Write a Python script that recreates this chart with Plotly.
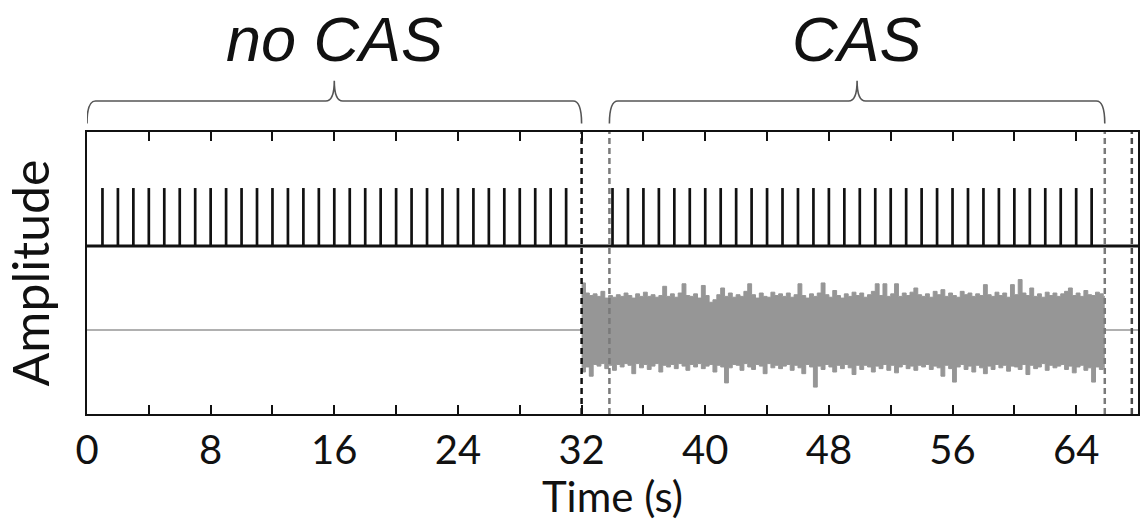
import numpy as np
import plotly.graph_objects as go

# ---- data -----------------------------------------------------------------
# click times (s) in the two blocks
clicks_no_cas = [1, 2, 3, 4, 5, 6, 7, 8, 9, 10, 11, 12, 13, 14, 15, 16,
                 17, 18, 19, 20, 21, 22, 23, 24, 25, 26, 27, 28, 29, 30, 31]
clicks_cas = [34, 35, 36, 37, 38, 39, 40, 41, 42, 43, 44, 45, 46, 47, 48, 49,
              50, 51, 52, 53, 54, 55, 56, 57, 58, 59, 60, 61, 62, 63, 64, 65]
click_height = 0.69

# block boundaries (s)
noise_on, cas_start, noise_off, trial_end = 32.0, 33.8, 65.85, 67.6
t_max = 68

# contralateral noise envelope, sampled every 0.25 s from 32 s
noise_step = 0.25
noise_upper = [
    0.56, 0.44, 0.41, 0.43, 0.40, 0.46, 0.38, 0.41, 0.39, 0.42, 0.40, 0.44,
    0.41, 0.38, 0.43, 0.40, 0.45, 0.40, 0.42, 0.39, 0.41, 0.52, 0.40, 0.43,
    0.39, 0.44, 0.55, 0.41, 0.40, 0.43, 0.38, 0.53, 0.41, 0.33, 0.36, 0.42,
    0.50, 0.40, 0.44, 0.39, 0.42, 0.40, 0.46, 0.55, 0.42, 0.38, 0.44, 0.40,
    0.39, 0.45, 0.41, 0.43, 0.40, 0.44, 0.39, 0.42, 0.55, 0.41, 0.38, 0.43,
    0.40, 0.44, 0.56, 0.42, 0.39, 0.47, 0.41, 0.38, 0.43, 0.40, 0.45, 0.41,
    0.44, 0.39, 0.42, 0.46, 0.55, 0.41, 0.55, 0.40, 0.43, 0.55, 0.40, 0.44,
    0.41, 0.45, 0.50, 0.42, 0.40, 0.43, 0.39, 0.46, 0.42, 0.48, 0.40, 0.44,
    0.41, 0.39, 0.46, 0.42, 0.44, 0.40, 0.43, 0.41, 0.54, 0.42, 0.40, 0.45,
    0.41, 0.44, 0.39, 0.54, 0.42, 0.60, 0.44, 0.41, 0.50, 0.40, 0.43, 0.39,
    0.45, 0.41, 0.44, 0.40, 0.43, 0.46, 0.50, 0.41, 0.44, 0.40, 0.47, 0.42,
    0.41, 0.45, 0.43, 0.40,
]
noise_lower = [
    -0.50, -0.44, -0.55, -0.41, -0.43, -0.40, -0.46, -0.42, -0.48, -0.41,
    -0.44, -0.40, -0.42, -0.52, -0.40, -0.45, -0.41, -0.47, -0.43, -0.40,
    -0.50, -0.42, -0.44, -0.41, -0.46, -0.40, -0.43, -0.48, -0.41, -0.44,
    -0.40, -0.46, -0.43, -0.41, -0.50, -0.42, -0.44, -0.63, -0.45, -0.41,
    -0.42, -0.48, -0.40, -0.44, -0.47, -0.41, -0.43, -0.52, -0.40, -0.45,
    -0.42, -0.46, -0.43, -0.41, -0.48, -0.42, -0.45, -0.52, -0.41, -0.44,
    -0.68, -0.43, -0.47, -0.41, -0.44, -0.50, -0.42, -0.46, -0.41, -0.45,
    -0.53, -0.42, -0.47, -0.42, -0.44, -0.50, -0.43, -0.46, -0.41, -0.48,
    -0.42, -0.51, -0.44, -0.41, -0.46, -0.43, -0.48, -0.42, -0.44, -0.41,
    -0.47, -0.43, -0.45, -0.55, -0.42, -0.46, -0.62, -0.44, -0.41, -0.47,
    -0.43, -0.50, -0.42, -0.45, -0.52, -0.43, -0.47, -0.41, -0.45, -0.42,
    -0.49, -0.43, -0.44, -0.47, -0.41, -0.53, -0.42, -0.46, -0.44, -0.40,
    -0.48, -0.42, -0.45, -0.43, -0.41, -0.47, -0.43, -0.51, -0.44, -0.42,
    -0.48, -0.45, -0.62, -0.44, -0.47, -0.45,
]

tick_vals = list(range(0, 69, 4))
tick_text = [str(v) if v % 8 == 0 else "" for v in tick_vals]

# vertical offsets of the two traces
probe_level, noise_level = 2.0, 1.0
y_max = 3.357

# ---- figure ---------------------------------------------------------------
fig = go.Figure()

# probe channel: baseline plus click impulses
fig.add_trace(go.Scatter(x=[0, t_max], y=[probe_level, probe_level], mode="lines",
                         line=dict(color="#111111", width=2.8), hoverinfo="skip"))
cx, cy = [], []
for t in clicks_no_cas + clicks_cas:
    cx += [t, t, None]
    cy += [probe_level, probe_level + click_height, None]
fig.add_trace(go.Scatter(x=cx, y=cy, mode="lines",
                         line=dict(color="#111111", width=2.7), hoverinfo="skip"))

# contralateral channel: silent segments
grey = "rgb(150,150,150)"
fig.add_trace(go.Scatter(x=[0, noise_on, None, noise_off, t_max],
                         y=[noise_level, noise_level, None, noise_level, noise_level],
                         mode="lines", line=dict(color=grey, width=1.4), hoverinfo="skip"))

# broadband noise band
nt = np.round(noise_on + noise_step * np.arange(len(noise_upper)), 3).tolist() + [noise_off]
lo = [noise_level + v for v in noise_lower] + [noise_level + noise_lower[-1]]
hi = [noise_level + v for v in noise_upper] + [noise_level + noise_upper[-1]]
fig.add_trace(go.Scatter(x=nt, y=lo, mode="lines", line=dict(color=grey, width=1, shape="hv"),
                         hoverinfo="skip"))
fig.add_trace(go.Scatter(x=nt, y=hi, mode="lines", line=dict(color=grey, width=1, shape="hv"),
                         fill="tonexty", fillcolor=grey, hoverinfo="skip"))

# dashed block markers
markers = [(noise_on, "#111111"), (cas_start, "#7a7a7a"),
           (noise_off, "#7a7a7a"), (trial_end, "#4a4a4a")]
for xv, col in markers:
    fig.add_shape(type="line", xref="x", yref="paper", x0=xv, x1=xv, y0=0, y1=1,
                  line=dict(color=col, width=2.5, dash="6px,4px"))


# curly braces above the two blocks
def brace(x0, x1):
    xm = (x0 + x1) / 2
    yb, yl, yt = 1.030, 1.110, 1.182
    r = 0.55
    return (f"M {x0},{yb} Q {x0},{yl} {x0 + r},{yl} L {xm - r},{yl} "
            f"Q {xm},{yl} {xm},{yt} Q {xm},{yl} {xm + r},{yl} "
            f"L {x1 - r},{yl} Q {x1},{yl} {x1},{yb}")


for a, b in [(0, noise_on), (cas_start, noise_off)]:
    fig.add_shape(type="path", xref="x", yref="paper", path=brace(a, b),
                  line=dict(color="#555555", width=1.6))

label_font = dict(family="Liberation Sans", size=63, color="#111111", style="italic")
fig.add_annotation(x=noise_on / 2, y=1.33, xref="x", yref="paper", text="no CAS",
                   showarrow=False, font=label_font, yanchor="middle")
fig.add_annotation(x=(cas_start + noise_off) / 2, y=1.33, xref="x", yref="paper",
                   text="CAS", showarrow=False, font=label_font, yanchor="middle")

tick_font = dict(family="Lato", size=40, color="#111111")
title_font = dict(family="Lato", size=42, color="#111111")
fig.update_layout(
    width=1144, height=521,
    margin=dict(l=87, r=4, t=132, b=107),
    paper_bgcolor="white", plot_bgcolor="white",
    showlegend=False,
    font=tick_font,
    xaxis=dict(range=[0, t_max], tickvals=tick_vals, ticktext=tick_text,
               ticks="inside", ticklen=9, tickwidth=2, tickcolor="#111111",
               showline=True, linecolor="#111111", linewidth=2, mirror="ticks",
               showgrid=False, zeroline=False, tickfont=tick_font,
               title=dict(text="Time (s)", font=title_font, standoff=2)),
    yaxis=dict(range=[0, y_max], showticklabels=False, ticks="",
               showline=True, linecolor="#111111", linewidth=2, mirror=True,
               showgrid=False, zeroline=False,
               title=dict(text="Amplitude", font=dict(family="Lato", size=50,
                                                      color="#111111"), standoff=20)),
)

fig.write_html("out.html")
